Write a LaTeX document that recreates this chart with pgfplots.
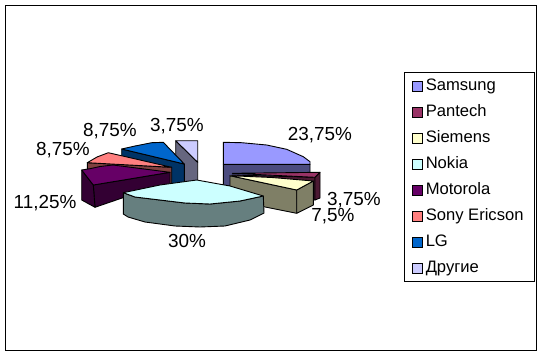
\documentclass[border=0pt]{standalone}
\usepackage{fontspec}
\setmainfont{Liberation Sans}
\usepackage{pgfplots}
\pgfplotsset{compat=1.18}
\definecolor{cSam}{HTML}{9999FF}\definecolor{dSam}{HTML}{4C4C7F}
\definecolor{cPan}{HTML}{993366}\definecolor{dPan}{HTML}{4C1933}
\definecolor{cSie}{HTML}{FFFFCC}\definecolor{dSie}{HTML}{7F7F66}
\definecolor{cNok}{HTML}{CCFFFF}\definecolor{dNok}{HTML}{667F7F}
\definecolor{cMot}{HTML}{660066}\definecolor{dMot}{HTML}{330033}
\definecolor{cSon}{HTML}{FF8080}\definecolor{dSon}{HTML}{7F4040}
\definecolor{cLG}{HTML}{0066CC}\definecolor{dLG}{HTML}{003366}
\definecolor{cOth}{HTML}{CCCCFF}\definecolor{dOth}{HTML}{66667F}
\pgfplotsset{face/.style={fill=#1,draw=black,line width=0.9pt,line join=round,forget plot,mark=none},
  sw/.style={legend image code/.code={\draw[fill=#1,draw=black,line width=0.8pt] (-1.5pt,-5pt) rectangle (8.5pt,5pt);}}}
\newcommand{\lab}[3]{\node[font=\fontsize{18.9pt}{20pt}\selectfont,inner sep=0pt] at (axis cs:#1,#2) {#3};}
\begin{document}
\begin{tikzpicture}[x=1pt,y=1pt]
\useasboundingbox (0,0) rectangle (543,357);
\begin{axis}[at={(0,0)},anchor=south west,scale only axis,width=543pt,height=357pt,
  xmin=0,xmax=543,ymin=0,ymax=357,y dir=reverse,hide axis,clip=false,
  legend cell align=left,
  legend style={at={(axis cs:404,72)},anchor=north west,draw=black,line width=0.9pt,
    font=\fontsize{16.6pt}{18pt}\selectfont,row sep=9pt,
    inner xsep=8pt,inner ysep=5pt,
    nodes={inner xsep=2.5pt,inner ysep=0pt,text height=13pt,text depth=4pt}},
]
% legend
\addlegendimage{sw=cSam}\addlegendentry{Samsung}
\addlegendimage{sw=cPan}\addlegendentry{Pantech}
\addlegendimage{sw=cSie}\addlegendentry{Siemens}
\addlegendimage{sw=cNok}\addlegendentry{Nokia}
\addlegendimage{sw=cMot}\addlegendentry{Motorola}
\addlegendimage{sw=cSon}\addlegendentry{Sony Ericson\hspace{2pt}}
\addlegendimage{sw=cLG}\addlegendentry{LG}
\addlegendimage{sw=cOth}\addlegendentry{Другие}
% outer frame
\addplot[draw=black,line width=1pt,forget plot] coordinates {(5.5,5.5)(536,5.5)(536,350)(5.5,350)} -- cycle;
% Другие 3.75
\addplot[face=dOth] coordinates {(175.7,140.7)(197.7,162.3)(197.7,182)(175.7,182)} -- cycle;
\addplot[face=cOth] coordinates {(175.7,140.7)(197.7,140.7)(197.7,162.3)} -- cycle;
% LG 8.75
\addplot[face=dLG] coordinates {(121.7,149)(184.3,164)(184.3,183.3)(173,185)(121.7,165)} -- cycle;
\addplot[face=cLG] coordinates {(121.7,149)(135,146)(151.7,142.7)(163.3,142.3)(184.3,164)} -- cycle;
% Sony 8.75
\addplot[face=dSon] coordinates {(87.3,162.7)(171.7,167.3)(171.7,186)(87.3,175)} -- cycle;
\addplot[face=cSon] coordinates {(87.3,162.7)(97,157)(108.3,152.7)(171.7,167.3)} -- cycle;
% Motorola 11.25
\addplot[face=dMot] coordinates {(93.3,185)(170,172.3)(170,190)(125,197)(95,207.3)} -- cycle;
\addplot[face=dMot] coordinates {(81.7,170)(93.3,185)(95,207.3)(81.7,200)} -- cycle;
\addplot[face=cMot] coordinates {(81.7,170)(91,168.5)(100,166.5)(113,165)(170,172.3)(93.3,185)} -- cycle;
% Samsung 23.75
\addplot[face=dSam] coordinates {(223.3,164.3)(310,164.3)(310,180)(223.3,186)} -- cycle;
\addplot[face=cSam] coordinates {(223.3,142.3)(241.7,142.7)(266.7,145)(286.7,149.3)(303.3,156.7)(310,161.7)(310,164.3)(223.3,164.3)} -- cycle;
% Pantech 3.75
\addplot[face=dPan] coordinates {(232.3,175)(315,177.3)(315,200)(240,196)} -- cycle;
\addplot[face=dPan] coordinates {(315,177.3)(320,172.3)(320,198)(315,200)} -- cycle;
\addplot[face=cPan] coordinates {(232.3,173.3)(320,172.3)(315,177.3)} -- cycle;
% Siemens 7.5
\addplot[face=dSie] coordinates {(230,175.7)(296.7,190)(296.7,213.3)(266.7,207.3)(230,200)} -- cycle;
\addplot[face=dSie] coordinates {(296.7,190)(313.3,181)(313.3,205)(296.7,213.3)} -- cycle;
\addplot[face=cSie] coordinates {(230,175.7)(272,177.5)(313.3,181)(296.7,190)} -- cycle;
% Nokia 30
\addplot[face=dNok] coordinates {(123.3,192.7)(135,197)(160,200)(185,203)(210,204)(240,201)(263.3,196)(264,213)(250,220)(225,226)(200,227)(175,226)(145,222)(128,217)(123.3,214)} -- cycle;
\addplot[face=cNok] coordinates {(123.3,192.7)(160,185)(196.7,180)(230,186)(263.3,196)(240,201)(210,204)(185,203)(160,200)(135,197)} -- cycle;
% data labels
\lab{320}{135}{23,75\%}
\lab{354}{200}{3,75\%}
\lab{333}{216}{7,5\%}
\lab{187}{241}{30\%}
\lab{45}{203}{11,25\%}
\lab{63}{150}{8,75\%}
\lab{110}{131}{8,75\%}
\lab{177}{126}{3,75\%}
\end{axis}
\end{tikzpicture}
\end{document}
